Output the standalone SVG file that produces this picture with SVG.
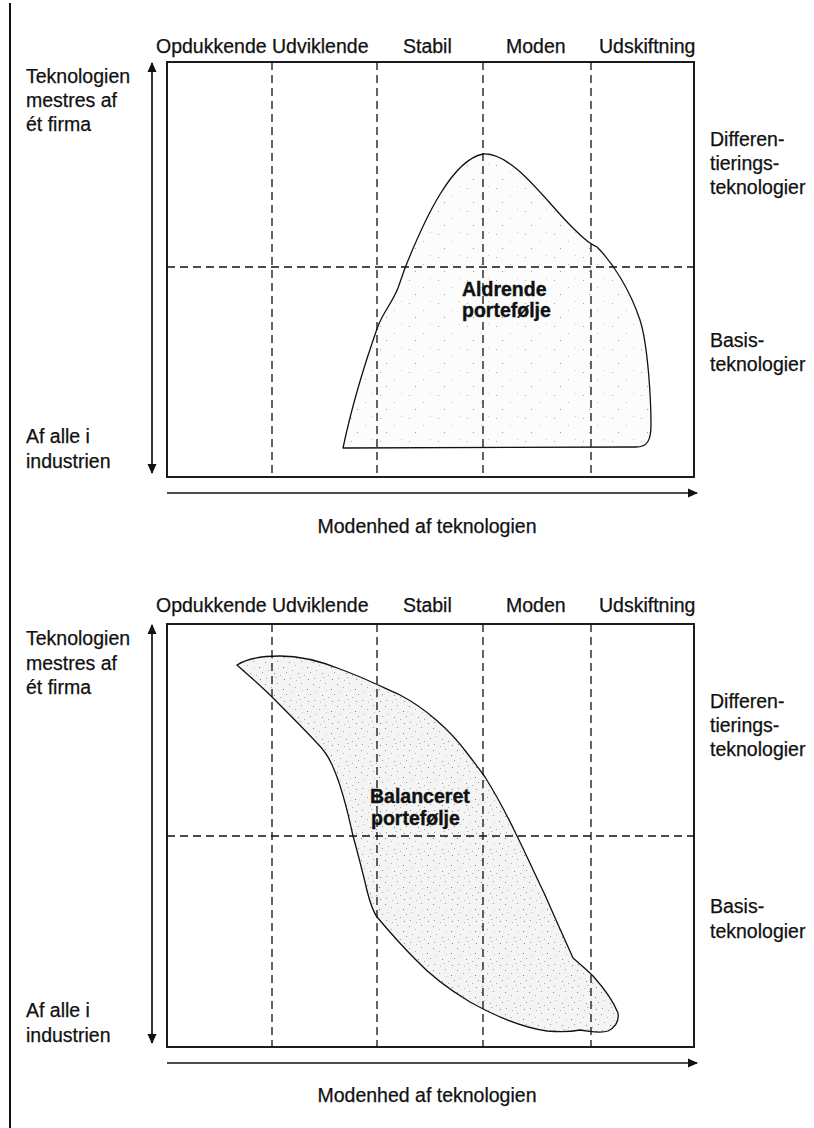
<svg xmlns="http://www.w3.org/2000/svg" width="814" height="1128" viewBox="0 0 814 1128">
  <defs>
    <style>
      .lbl { font-family: "Liberation Sans", Arial, sans-serif; font-size: 19.5px; fill: #111; stroke: #111; stroke-width: 0.25; }
      .bold { font-family: "Liberation Sans", Arial, sans-serif; font-size: 19.5px; font-weight: bold; fill: #111; stroke: #111; stroke-width: 0.4; }
      .frame { fill: none; stroke: #111; stroke-width: 1.9; }
      .grid { fill: none; stroke: #111; stroke-width: 1.3; stroke-dasharray: 8 5; }
      .axis { fill: none; stroke: #111; stroke-width: 1.7; }
      .blob { stroke: #111; stroke-width: 1.3; stroke-linejoin: round; }
    </style>
    <marker id="ah" viewBox="0 0 10 10" refX="9" refY="5" markerWidth="11" markerHeight="10" markerUnits="userSpaceOnUse" orient="auto-start-reverse">
      <path d="M0,0.5 L10,5 L0,9.5 Z" fill="#111"/>
    </marker>
    <!-- sparse stipple -->
    <pattern id="dotsLight" width="29" height="23" patternUnits="userSpaceOnUse">
      <rect width="29" height="23" fill="#fcfcfc"/>
      <rect x="3" y="4" width="1" height="1" fill="#aaa"/>
      <rect x="17" y="11" width="1" height="1" fill="#bbb"/>
      <rect x="9" y="18" width="1" height="1" fill="#999"/>
      <rect x="24" y="2" width="1" height="1" fill="#ccc"/>
    </pattern>
    <!-- dense stipple -->
    <pattern id="dotsDense" width="24" height="22" patternUnits="userSpaceOnUse">
      <rect width="24" height="22" fill="#f4f4f4"/>
      <rect x="1" y="2" width="1" height="1" fill="#888"/>
      <rect x="7" y="5" width="1" height="1" fill="#aaa"/>
      <rect x="13" y="1" width="1" height="1" fill="#999"/>
      <rect x="19" y="7" width="1" height="1" fill="#777"/>
      <rect x="4" y="10" width="1" height="1" fill="#bbb"/>
      <rect x="10" y="13" width="1" height="1" fill="#888"/>
      <rect x="16" y="15" width="1" height="1" fill="#aaa"/>
      <rect x="22" y="12" width="1" height="1" fill="#999"/>
      <rect x="2" y="18" width="1" height="1" fill="#999"/>
      <rect x="8" y="20" width="1" height="1" fill="#bbb"/>
      <rect x="14" y="8" width="1" height="1" fill="#ccc"/>
      <rect x="20" y="19" width="1" height="1" fill="#888"/>
      <rect x="11" y="17" width="2" height="1" fill="#ccc"/>
    </pattern>
  </defs>

  <rect width="814" height="1128" fill="#fff"/>

  <!-- page margin rule -->
  <line x1="10" y1="3" x2="10" y2="1128" stroke="#111" stroke-width="2"/>

  <!-- ===== Upper chart: ageing portfolio ===== -->
  <g id="chart-aldrende">
    <g id="aldrende-shape">
      <path class="blob" fill="url(#dotsLight)" d="M343,448 C352,405 366,360 378,326 C384,311 392,303 398,288 L405,268 C425,218 452,160 483,154 C512,152 545,200 570,225 C580,235 588,243 597,247 C613,263 630,290 640,320 C648,345 651,400 651,425 C651,441 647,447 636,447 Z"/>
    </g>
    <g id="aldrende-grid">
      <line class="grid" x1="272" y1="62" x2="272" y2="477"/>
      <line class="grid" x1="377" y1="62" x2="377" y2="477"/>
      <line class="grid" x1="483" y1="62" x2="483" y2="477"/>
      <line class="grid" x1="591" y1="62" x2="591" y2="477"/>
      <line class="grid" x1="167" y1="267" x2="694" y2="267"/>
    </g>
    <rect class="frame" x="167" y="62" width="527" height="415"/>
    <g id="aldrende-stages">
      <text class="lbl" x="156" y="53">Opdukkende Udviklende</text>
      <text class="lbl" x="403" y="53">Stabil</text>
      <text class="lbl" x="506" y="53">Moden</text>
      <text class="lbl" x="599" y="53">Udskiftning</text>
    </g>
    <g id="aldrende-yaxis">
      <text class="lbl" x="26" y="83">Teknologien</text>
      <text class="lbl" x="26" y="107">mestres af</text>
      <text class="lbl" x="26" y="131">ét firma</text>
      <text class="lbl" x="26" y="443">Af alle i</text>
      <text class="lbl" x="26" y="468">industrien</text>
    </g>
    <g id="aldrende-right">
      <text class="lbl" x="710" y="146">Differen-</text>
      <text class="lbl" x="710" y="170">tierings-</text>
      <text class="lbl" x="710" y="194">teknologier</text>
      <text class="lbl" x="710" y="347">Basis-</text>
      <text class="lbl" x="710" y="371">teknologier</text>
    </g>
    <g id="aldrende-label">
      <text class="bold" x="462" y="296">Aldrende</text>
      <text class="bold" x="462" y="317">portefølje</text>
    </g>
    <text class="lbl" x="427" y="533" text-anchor="middle">Modenhed af teknologien</text>
  </g>

  <!-- ===== Lower chart: balanced portfolio ===== -->
  <g id="chart-balanceret">
    <g id="balanceret-shape">
      <path class="blob" fill="url(#dotsDense)" d="M237,665 C248,658 262,656 280,656 C300,656 320,661 340,669 C360,676 380,686 400,695 C425,708 450,730 467,753 C474,762 480,770 485,777 C495,793 507,815 517,836 C525,852 533,870 545,895 C555,918 565,940 573,958 C580,964 587,970 593,976 C602,986 612,998 618,1013 C619,1020 616,1027 608,1031 C600,1034 590,1031 580,1030 C570,1032 560,1032 547,1031 C520,1027 495,1016 470,1002 C450,990 430,975 415,959 C400,944 388,930 377,917 C372,910 369,900 365,882 C360,862 357,850 353,836 C347,808 341,785 333,767 C328,755 322,748 317,743 C302,727 287,712 272,697 C260,685 248,675 237,665 Z"/>
    </g>
    <g id="balanceret-grid">
      <line class="grid" x1="272" y1="624" x2="272" y2="1047"/>
      <line class="grid" x1="377" y1="624" x2="377" y2="1047"/>
      <line class="grid" x1="483" y1="624" x2="483" y2="1047"/>
      <line class="grid" x1="591" y1="624" x2="591" y2="1047"/>
      <line class="grid" x1="167" y1="836" x2="694" y2="836"/>
    </g>
    <rect class="frame" x="167" y="624" width="527" height="423"/>
    <g id="balanceret-stages">
      <text class="lbl" x="156" y="612">Opdukkende Udviklende</text>
      <text class="lbl" x="403" y="612">Stabil</text>
      <text class="lbl" x="506" y="612">Moden</text>
      <text class="lbl" x="599" y="612">Udskiftning</text>
    </g>
    <g id="balanceret-yaxis">
      <text class="lbl" x="26" y="645">Teknologien</text>
      <text class="lbl" x="26" y="670">mestres af</text>
      <text class="lbl" x="26" y="694">ét firma</text>
      <text class="lbl" x="26" y="1017">Af alle i</text>
      <text class="lbl" x="26" y="1042">industrien</text>
    </g>
    <g id="balanceret-right">
      <text class="lbl" x="710" y="708">Differen-</text>
      <text class="lbl" x="710" y="732">tierings-</text>
      <text class="lbl" x="710" y="756">teknologier</text>
      <text class="lbl" x="710" y="913">Basis-</text>
      <text class="lbl" x="710" y="938">teknologier</text>
    </g>
    <g id="balanceret-label">
      <text class="bold" x="370" y="803">Balanceret</text>
      <text class="bold" x="371" y="825">portefølje</text>
    </g>
    <text class="lbl" x="427" y="1102" text-anchor="middle">Modenhed af teknologien</text>
  </g>

  <!-- axis arrows -->
  <g id="connectors">
    <line class="axis" x1="152" y1="63" x2="152" y2="473" marker-start="url(#ah)" marker-end="url(#ah)"/>
    <line class="axis" x1="167" y1="493" x2="697" y2="493" marker-end="url(#ah)"/>
    <line class="axis" x1="152" y1="625" x2="152" y2="1043" marker-start="url(#ah)" marker-end="url(#ah)"/>
    <line class="axis" x1="167" y1="1063" x2="697" y2="1063" marker-end="url(#ah)"/>
  </g>
</svg>
